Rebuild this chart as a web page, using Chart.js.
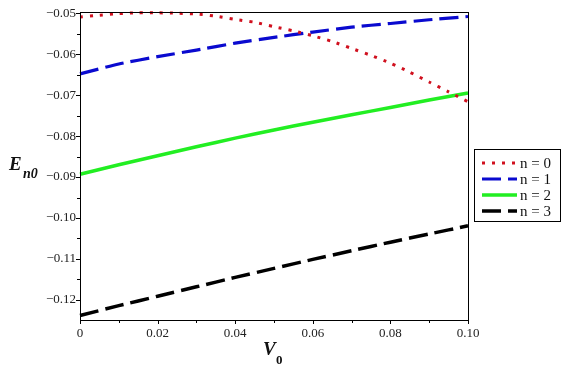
<!DOCTYPE html>
<html>
<head>
<meta charset="utf-8">
<script src="https://cdn.jsdelivr.net/npm/chart.js@4/dist/chart.umd.min.js"></script>
<style>
  html, body { margin: 0; padding: 0; background: #fff; }
  #wrap { position: relative; width: 564px; height: 374px; }
</style>
</head>
<body>
<div id="wrap"><canvas id="c" width="564" height="374"></canvas></div>
<script>
// ---- data ----
const vCoarse = [0, 0.01, 0.02, 0.03, 0.04, 0.05, 0.06, 0.07, 0.08, 0.09, 0.10];
const vFine = [0, 0.005, 0.01, 0.015, 0.02, 0.025, 0.03, 0.035, 0.04, 0.045, 0.05,
               0.055, 0.06, 0.065, 0.07, 0.075, 0.08, 0.085, 0.09, 0.095, 0.10];
const energyN0 = [-0.0509, -0.0505, -0.0501, -0.0499, -0.0499, -0.0500, -0.0502, -0.0507, -0.0515, -0.0522, -0.0533,
                  -0.0543, -0.0555, -0.0569, -0.0586, -0.0603, -0.0622, -0.0644, -0.0668, -0.0692, -0.0716];
const energyN1 = [-0.0648, -0.0624, -0.0606, -0.0590, -0.0573, -0.0559, -0.0546, -0.0534, -0.0525, -0.0516, -0.0508];
const energyN2 = [-0.0893, -0.0870, -0.0848, -0.0826, -0.0805, -0.0785, -0.0766, -0.0748, -0.0730, -0.0712, -0.0695];
const energyN3 = [-0.1238, -0.1214, -0.1191, -0.1168, -0.1145, -0.1123, -0.1101, -0.1080, -0.1059, -0.1039, -0.1019];
const seriesLabels = ['n = 0', 'n = 1', 'n = 2', 'n = 3'];

const xTickValues = [0, 0.02, 0.04, 0.06, 0.08, 0.10];
const xTickLabels = ['0', '0.02', '0.04', '0.06', '0.08', '0.10'];
const xMinorTicks = [0.01, 0.03, 0.05, 0.07, 0.09];
const yTickValues = [-0.05, -0.06, -0.07, -0.08, -0.09, -0.10, -0.11, -0.12];
const yTickLabels = ['\u22120.05', '\u22120.06', '\u22120.07', '\u22120.08', '\u22120.09', '\u22120.10', '\u22120.11', '\u22120.12'];
const yMinorTicks = [-0.055, -0.065, -0.075, -0.085, -0.095, -0.105, -0.115];

const yTitle = { main: 'E', sub: 'n0' };
const xTitle = { main: 'V', sub: '0' };

// ---- build ----
const pts = (xs, ys) => xs.map((x, i) => ({ x: x, y: ys[i] }));
const SERIF = "'Liberation Serif', 'Times New Roman', serif";
Chart.defaults.font.family = SERIF;
Chart.defaults.color = '#111';

const datasets = [
  { label: seriesLabels[0], data: pts(vFine, energyN0), borderColor: '#d0101e', borderWidth: 3, borderDash: [3, 7], borderCapStyle: 'butt' },
  { label: seriesLabels[1], data: pts(vCoarse, energyN1), borderColor: '#0a0acf', borderWidth: 3.2, borderDash: [19, 7], borderCapStyle: 'butt' },
  { label: seriesLabels[2], data: pts(vCoarse, energyN2), borderColor: '#22ee22', borderWidth: 3.5, borderDash: [] },
  { label: seriesLabels[3], data: pts(vCoarse, energyN3), borderColor: '#000000', borderWidth: 3.5, borderDash: [19, 7], borderCapStyle: 'butt' }
].map(d => Object.assign({ pointRadius: 0, fill: false, tension: 0.2, clip: 4 }, d));

function labelFor(values, labels, v) {
  for (let i = 0; i < values.length; i++) if (Math.abs(values[i] - v) < 1e-9) return labels[i];
  return '';
}

const decor = {
  id: 'decor',
  afterDraw(chart) {
    const ctx = chart.ctx, a = chart.chartArea;
    const xs = chart.scales.x, ys = chart.scales.y;
    ctx.save();
    // frame
    ctx.strokeStyle = '#000'; ctx.lineWidth = 1;
    ctx.strokeRect(Math.round(a.left) + 0.5, Math.round(a.top) + 0.5, Math.round(a.right - a.left), Math.round(a.bottom - a.top));
    // tick marks
    ctx.beginPath();
    xs.ticks.forEach(t => {
      const px = Math.round(xs.getPixelForValue(t.value)) + 0.5;
      const len = labelFor(xTickValues, xTickLabels, t.value) ? 4 : 3;
      ctx.moveTo(px, a.bottom); ctx.lineTo(px, a.bottom + len);
    });
    ys.ticks.forEach(t => {
      const py = Math.round(ys.getPixelForValue(t.value)) + 0.5;
      const len = labelFor(yTickValues, yTickLabels, t.value) ? 4 : 3;
      ctx.moveTo(a.left, py); ctx.lineTo(a.left - len, py);
    });
    ctx.stroke();
    // axis titles
    ctx.fillStyle = '#111';
    ctx.textBaseline = 'alphabetic'; ctx.textAlign = 'left';
    ctx.font = 'bold italic 19px ' + SERIF;
    ctx.fillText(yTitle.main, 9, 170);
    ctx.font = 'bold italic 14px ' + SERIF;
    ctx.fillText(yTitle.sub, 23, 178);
    ctx.font = 'bold italic 19px ' + SERIF;
    ctx.fillText(xTitle.main, 263, 355);
    ctx.font = 'bold 13px ' + SERIF;
    ctx.fillText(xTitle.sub, 276, 364);
    // legend
    const bx = 474.5, by = 149.5, bw = 86, bh = 72;
    ctx.fillStyle = '#fff'; ctx.fillRect(bx, by, bw, bh);
    ctx.strokeStyle = '#000'; ctx.lineWidth = 1; ctx.setLineDash([]);
    ctx.strokeRect(bx, by, bw, bh);
    chart.data.datasets.forEach((d, i) => {
      const yy = 163 + i * 16;
      ctx.save();
      ctx.strokeStyle = d.borderColor; ctx.lineWidth = d.borderWidth;
      ctx.setLineDash(d.borderDash || []); ctx.lineCap = 'butt';
      ctx.beginPath(); ctx.moveTo(482, yy); ctx.lineTo(517, yy); ctx.stroke();
      ctx.restore();
      ctx.fillStyle = '#111'; ctx.font = '15px ' + SERIF; ctx.textBaseline = 'middle';
      ctx.fillText(d.label, 520, yy + 1);
    });
    ctx.restore();
  }
};

new Chart(document.getElementById('c'), {
  type: 'line',
  data: { datasets: datasets },
  options: {
    responsive: false,
    animation: false,
    layout: { padding: { left: 0, top: 12, right: 96, bottom: 0 } },
    plugins: { legend: { display: false }, tooltip: { enabled: false } },
    scales: {
      x: {
        type: 'linear', min: 0, max: 0.1,
        grid: { drawOnChartArea: false, drawTicks: false },
        border: { display: false },
        afterBuildTicks: s => { s.ticks = xTickValues.concat(xMinorTicks).sort((p, q) => p - q).map(v => ({ value: v })); },
        afterFit: s => { s.height = 54; },
        ticks: {
          autoSkip: false, maxRotation: 0, padding: 6,
          font: { size: 13 }, color: '#222',
          callback: v => labelFor(xTickValues, xTickLabels, v)
        }
      },
      y: {
        type: 'linear', min: -0.1249, max: -0.0497,
        grid: { drawOnChartArea: false, drawTicks: false },
        border: { display: false },
        afterBuildTicks: s => { s.ticks = yTickValues.concat(yMinorTicks).sort((p, q) => p - q).map(v => ({ value: v })); },
        afterFit: s => { s.width = 80; },
        ticks: {
          autoSkip: false, padding: 4,
          font: { size: 13 }, color: '#222',
          callback: v => labelFor(yTickValues, yTickLabels, v)
        }
      }
    }
  },
  plugins: [decor]
});
</script>
</body>
</html>
